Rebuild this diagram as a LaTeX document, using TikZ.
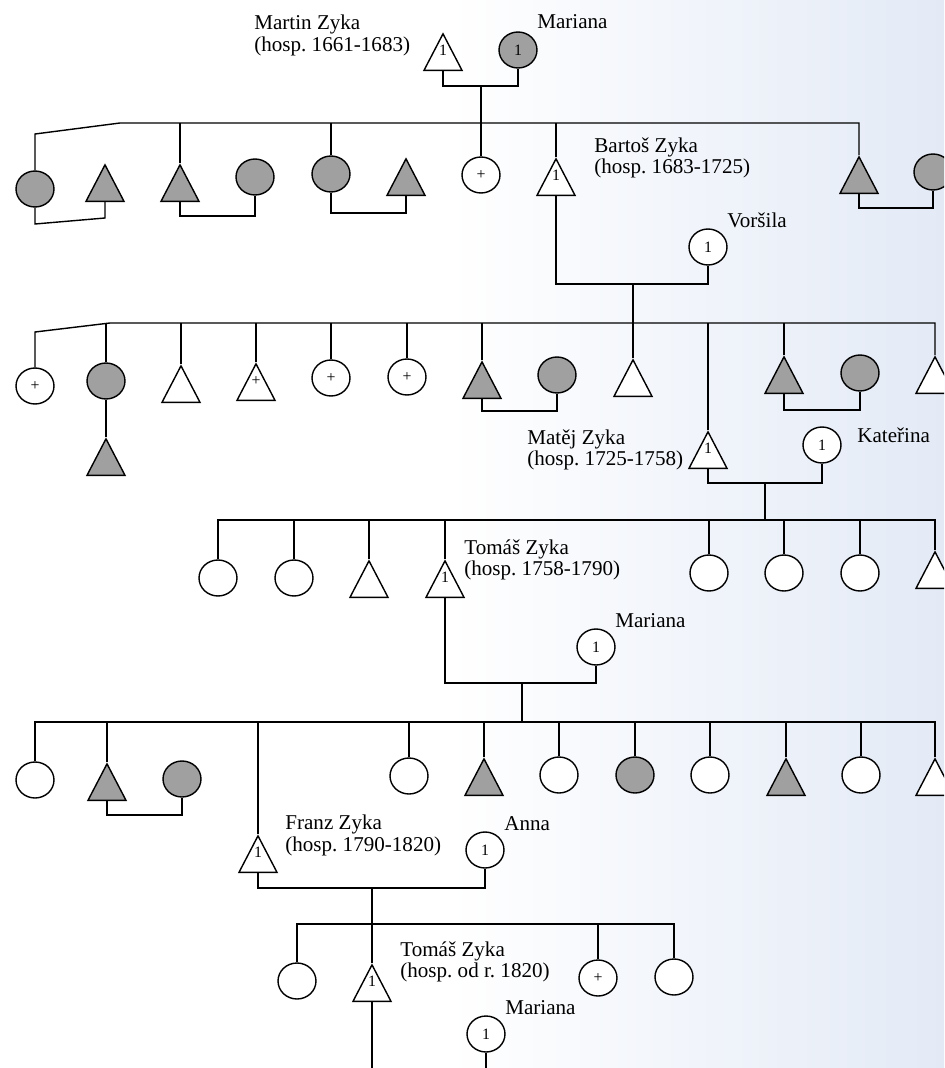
\documentclass[tikz,border=0pt]{standalone}
\usepackage{fontspec}
\setmainfont{Liberation Serif}
\frenchspacing
\usetikzlibrary{shapes.geometric}
\definecolor{bgblue}{RGB}{227,234,246}
\definecolor{shadegray}{RGB}{160,160,160}
\newcommand{\tsym}[1]{\raisebox{3.5pt}[0pt][0pt]{#1}}
\begin{document}
\begin{tikzpicture}[x=0.02cm, y=-0.02cm,
  ln/.style={line width=0.8pt},
  sym/.style={draw, line width=0.8pt, inner sep=0pt, font=\fontsize{9}{9}\selectfont},
  tri/.style={sym, isosceles triangle, isosceles triangle stretches=true, shape border rotate=90, minimum width=0.76cm, minimum height=0.73cm, anchor=apex, fill=white},
  circ/.style={sym, ellipse, minimum width=0.76cm, minimum height=0.72cm, fill=white},
  shd/.style={fill=shadegray},
  lbl/.style={font=\fontsize{12}{12}\selectfont, inner sep=0pt, align=left},
]
\useasboundingbox (0,0) rectangle (944,1068);
\clip (0,0) rectangle (944,1068);
\fill[white] (0,0) rectangle (944,1068);
\shade[left color=white, right color=bgblue] (450,0) rectangle (944,1068);

% ---------- generation 0
\node[tri] (martin) at (443,32) {\tsym{1}};
\node[circ,shd] (mariana0) at (518,50) {1};
\node[lbl, anchor=north west] (lmartin) at (254,15) {Martin Zyka\\(hosp. 1661-1683)};
\node[lbl, anchor=base west] (lmariana0) at (537,29) {Mariana};

% ---------- generation 1
\node[circ,shd] (a1) at (35,189) {};
\node[tri,shd] (a2) at (105,163) {};
\node[tri,shd] (a3) at (180,163) {};
\node[circ,shd] (a4) at (255,177) {};
\node[circ,shd] (a5) at (331,174) {};
\node[tri,shd] (a6) at (406,157) {};
\node[circ] (a7) at (481,175) {+};
\node[tri] (bartos) at (556,157) {\tsym{1}};
\node[tri,shd] (a9) at (859,155) {};
\node[circ,shd] (a10) at (933,172) {};
\node[lbl, anchor=north west] (lbartos) at (594,137) {Bartoš Zyka\\(hosp. 1683-1725)};
\node[circ] (vorsila) at (708,247) {1};
\node[lbl, anchor=base west] (lvorsila) at (727,227) {Voršila};

\coordinate (c0) at (481,86);
\draw[ln] (martin.lower side) |- (c0) -| (mariana0.south);
\draw[ln] (c0) -- (a7.north);
\coordinate (g1l) at (35,134);
\coordinate (g1m) at (120,123);
\coordinate (g1r) at (859,123);
\draw[ln] (a1.north) -- (g1l) -- (g1m) -- (g1r) -- (a9.apex);
\draw[ln] (a3.apex) -- (a3.apex |- g1m);
\draw[ln] (a5.north) -- (a5.north |- g1m);
\draw[ln] (bartos.apex) -- (bartos.apex |- g1m);
\coordinate (m1a) at (35,224);
\coordinate (m1b) at (105,218);
\draw[ln] (a1.south) -- (m1a) -- (m1b) -- (a2.lower side);
\coordinate (m3) at (218,216);
\draw[ln] (a3.lower side) |- (m3) -| (a4.south);
\coordinate (m5) at (368,213);
\draw[ln] (a5.south) |- (m5) -| (a6.lower side);
\coordinate (m9) at (896,208);
\draw[ln] (a9.lower side) |- (m9) -| (a10.south);
\coordinate (c1) at (633,284);
\draw[ln] (bartos.lower side) |- (c1) -| (vorsila.south);

% ---------- generation 2
\node[circ] (b1) at (35,386) {+};
\node[circ,shd] (b2) at (106,381) {};
\node[tri,shd] (b2c) at (106,437) {};
\node[tri] (b3) at (181,364) {};
\node[tri] (b4) at (256,362) {\tsym{+}};
\node[circ] (b5) at (331,378) {+};
\node[circ] (b6) at (407,377) {+};
\node[tri,shd] (b7) at (482,360) {};
\node[circ,shd] (b8) at (557,375) {};
\node[tri] (b9) at (633,358) {};
\node[tri] (matej) at (708,430) {\tsym{1}};
\node[tri,shd] (b11) at (784,355) {};
\node[circ,shd] (b12) at (860,373) {};
\node[tri] (b13) at (935,355) {};
\node[circ] (katerina) at (822,445) {1};
\node[lbl, anchor=north west] (lmatej) at (527,429) {Matěj Zyka\\(hosp. 1725-1758)};
\node[lbl, anchor=base west] (lkaterina) at (857,442) {Kateřina};

\coordinate (g2l) at (35,332);
\coordinate (g2m) at (110,323);
\coordinate (g2r) at (935,323);
\draw[ln] (b1.north) -- (g2l) -- (g2m) -- (g2r) -- (b13.apex);
\foreach \n/\a in {b2/north, b3/apex, b4/apex, b5/north, b6/north, b7/apex, matej/apex, b11/apex}
  \draw[ln] (\n.\a) -- (\n.\a |- g2m);
\draw[ln] (c1) -- (b9.apex);
\draw[ln] (b2.south) -- (b2c.apex);
\coordinate (m7) at (520,411);
\draw[ln] (b7.lower side) |- (m7) -| (b8.south);
\coordinate (m11) at (822,410);
\draw[ln] (b11.lower side) |- (m11) -| (b12.south);
\coordinate (c2) at (765,483);
\draw[ln] (matej.lower side) |- (c2) -| (katerina.south);

% ---------- generation 3
\node[circ] (g3a) at (218,578) {};
\node[circ] (g3b) at (294,578) {};
\node[tri] (g3c) at (369,559) {};
\node[tri] (tomas) at (445,559) {\tsym{1}};
\node[circ] (g3e) at (709,573) {};
\node[circ] (g3f) at (784,573) {};
\node[circ] (g3g) at (860,573) {};
\node[tri] (g3h) at (935,550) {};
\node[lbl, anchor=north west] (ltomas) at (464,539) {Tomáš Zyka\\(hosp. 1758-1790)};
\node[circ] (mariana2) at (596,647) {1};
\node[lbl, anchor=base west] (lmariana2) at (615,627) {Mariana};

\coordinate (g3l) at (218,520);
\coordinate (g3r) at (935,520);
\draw[ln] (g3a.north) -- (g3l) -- (g3r) -- (g3h.apex);
\draw[ln] (c2) -- (c2 |- g3l);
\foreach \n/\a in {g3b/north, g3c/apex, tomas/apex, g3e/north, g3f/north, g3g/north}
  \draw[ln] (\n.\a) -- (\n.\a |- g3l);
\coordinate (c3) at (522,683);
\draw[ln] (tomas.lower side) |- (c3) -| (mariana2.south);

% ---------- generation 4
\node[circ] (d1) at (35,780) {};
\node[tri,shd] (d2) at (107,762) {};
\node[circ,shd] (d3) at (182,779) {};
\node[tri] (franz) at (258,834) {\tsym{1}};
\node[circ] (d5) at (409,776) {};
\node[tri,shd] (d6) at (484,757) {};
\node[circ] (d7) at (559,775) {};
\node[circ,shd] (d8) at (635,775) {};
\node[circ] (d9) at (710,775) {};
\node[tri,shd] (d10) at (786,757) {};
\node[circ] (d11) at (861,775) {};
\node[tri] (d12) at (935,757) {};
\node[lbl, anchor=north west] (lfranz) at (285,815) {Franz Zyka\\(hosp. 1790-1820)};
\node[circ] (anna) at (485,850) {1};
\node[lbl, anchor=base west] (lanna) at (504,830) {Anna};

\coordinate (g4l) at (35,722);
\coordinate (g4r) at (935,722);
\draw[ln] (d1.north) -- (g4l) -- (g4r) -- (d12.apex);
\draw[ln] (c3) -- (c3 |- g4l);
\foreach \n/\a in {d2/apex, franz/apex, d5/north, d6/apex, d7/north, d8/north, d9/north, d10/apex, d11/north}
  \draw[ln] (\n.\a) -- (\n.\a |- g4l);
\coordinate (m42) at (145,815);
\draw[ln] (d2.lower side) |- (m42) -| (d3.south);
\coordinate (c4) at (372,888);
\draw[ln] (franz.lower side) |- (c4) -| (anna.south);

% ---------- generation 5
\node[circ] (e1) at (297,981) {};
\node[tri] (tomas3) at (372,963) {\tsym{1}};
\node[circ] (e3) at (598,978) {+};
\node[circ] (e4) at (674,977) {};
\node[lbl, anchor=north west] (ltomas3) at (400,941) {Tomáš Zyka\\(hosp. od r. 1820)};
\node[circ] (mariana3) at (486,1034) {1};
\node[lbl, anchor=base west] (lmariana3) at (505,1014) {Mariana};

\coordinate (g5l) at (297,924);
\coordinate (g5r) at (674,924);
\draw[ln] (e1.north) -- (g5l) -- (g5r) -- (e4.north);
\draw[ln] (e3.north) -- (e3.north |- g5l);
\draw[ln] (c4) -- (tomas3.apex);
\coordinate (t3end) at (372,1075);
\coordinate (m3end) at (486,1075);
\draw[ln] (tomas3.lower side) -- (t3end);
\draw[ln] (mariana3.south) -- (m3end);
\end{tikzpicture}
\end{document}
